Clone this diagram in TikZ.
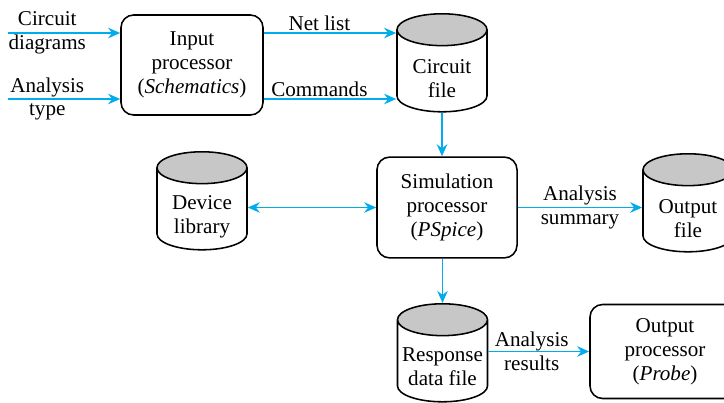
\documentclass[tikz,border=0pt]{standalone}
\usepackage{fontspec}
\setmainfont{Liberation Serif}
\usetikzlibrary{arrows.meta,positioning,shapes.geometric}
\definecolor{flowblue}{RGB}{0,172,236}

\begin{document}
\begin{tikzpicture}[
  x=0.025cm, y=-0.025cm,
  font=\fontsize{15}{17}\selectfont,
  proc/.style={draw, line width=1.1pt, rounded corners=9pt, rectangle, minimum width=3.55cm, minimum height=2.5cm, align=center},
  store/.style={draw, line width=1.1pt, cylinder, shape border rotate=90, aspect=3.4, minimum width=2.25cm, minimum height=2.45cm, cylinder uses custom fill, cylinder end fill=black!22, cylinder body fill=white, anchor=north},
  storetext/.style={align=center, inner sep=0pt},
  arr/.style={-{Stealth[length=3mm, width=2.6mm]}, line width=1.4pt, flowblue},
  dblarr/.style={{Stealth[length=3mm, width=2.6mm]}-{Stealth[length=3mm, width=2.6mm]}, line width=1.4pt, flowblue},
  lbl/.style={text=black, align=center, inner sep=1pt}
]
\useasboundingbox (0,0) rectangle (724,402);
\clip (0,0) rectangle (724,402);

% processors
\node[proc] (inproc) at (192,65) {Input\\processor\\(\textit{Schematics})};
\node[proc, minimum width=3.5cm, minimum height=2.52cm] (simproc) at (447,207.5) {Simulation\\processor\\(\textit{PSpice})};
\node[proc, minimum width=3.75cm, minimum height=2.35cm] (outproc) at (665,351.5) {Output\\processor\\(\textit{Probe})};

% files (placed by the top of the lid)
\node[store] (cfile) at (442,13) {};
\node[storetext] (cfiletext) at ([yshift=-1.65cm]cfile.north) {Circuit\\file};
\node[store] (devlib) at (202,151) {};
\node[storetext] (devlibtext) at ([yshift=-1.65cm]devlib.north) {Device\\library};
\node[store] (outfile) at (688,153) {};
\node[storetext] (outfiletext) at ([yshift=-1.65cm]outfile.north) {Output\\file};
\node[store] (resp) at (442.5,303) {};
\node[storetext] (resptext) at ([yshift=-1.6cm]resp.north) {Response\\data file};

% inputs
\coordinate (cdin) at (8,33);
\coordinate (atin) at (8,99);
\draw[arr] (cdin) -- (cdin -| inproc.west) node[lbl, pos=0.35] {Circuit\\diagrams};
\draw[arr] (atin) -- (atin -| inproc.west) node[lbl, pos=0.35] {Analysis\\type};

\draw[arr] ([yshift=0.8cm]inproc.east) -- ([yshift=0.8cm]inproc.east -| cfile.west) node[lbl, above, pos=0.42] {Net list};
\draw[arr] ([yshift=-0.85cm]inproc.east) -- ([yshift=-0.85cm]inproc.east -| cfile.west) node[lbl, above, pos=0.42] {Commands};

\draw[arr] (cfile.south) -- (cfile.south |- simproc.north);
\draw[dblarr] (devlib.east |- simproc.west) -- (simproc.west);
\draw[arr] (simproc.east) -- (simproc.east -| outfile.west) node[lbl, midway] {Analysis\\summary};
\draw[arr] (resp.north |- simproc.south) -- (resp.north);
\draw[arr] (resp.east |- outproc.west) -- (outproc.west) node[lbl, pos=0.43] {Analysis\\results};
\end{tikzpicture}
\end{document}
